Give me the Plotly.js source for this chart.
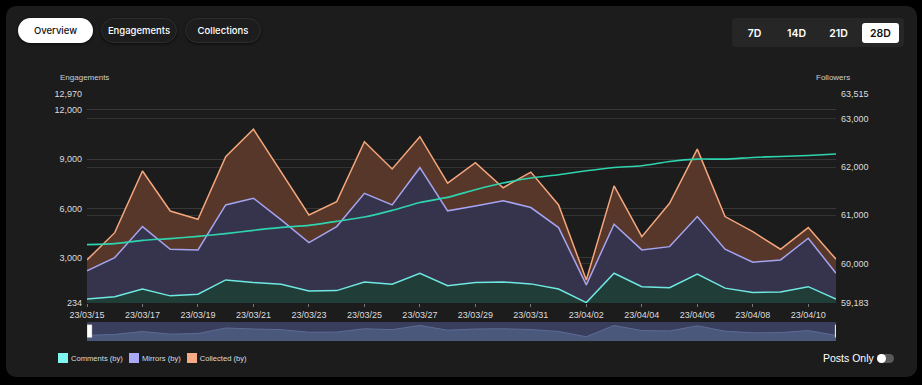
<!DOCTYPE html>
<html><head><meta charset="utf-8">
<script src="https://cdn.plot.ly/plotly-3.0.1.min.js"></script>
<style>
html,body{margin:0;padding:0;background:#000;width:922px;height:385px;overflow:hidden;font-family:"Liberation Sans",Arial,sans-serif;}
#card{position:absolute;left:6px;top:6px;width:911px;height:371px;background:#1c1c1c;border-radius:10px;}
#chart{position:absolute;left:0;top:0;width:922px;height:385px;}
.pill{position:absolute;top:18px;height:25px;border-radius:13px;font-family:Inter,"Liberation Sans",sans-serif;font-size:9.5px;font-weight:500;display:flex;align-items:center;justify-content:center;box-sizing:border-box;color:#fff;background:#1d1d1d;border:1px solid #2e2e2e;box-shadow:0 1px 3px rgba(0,0,0,0.6);}
.pill.active{background:#fff;color:#111;border:none;}
#seg{position:absolute;left:732px;top:18px;width:172px;height:29px;background:#262626;border-radius:4px;}
.seg{position:absolute;top:5px;height:20px;width:37px;border-radius:3px;font-family:Inter,"Liberation Sans",sans-serif;font-size:10.5px;font-weight:600;color:#fff;display:flex;align-items:center;justify-content:center;}
.seg.active{background:#fff;color:#111;}
#legend{position:absolute;left:58px;top:353px;display:flex;align-items:center;font-size:7.6px;color:#ddd;}
#legend .item{display:flex;align-items:center;margin-right:6px;}
#legend .sw{width:10px;height:10px;margin-right:3px;}
#posts{position:absolute;left:823px;top:352px;font-size:10.5px;color:#fff;font-family:"Liberation Sans",Arial,sans-serif;}
#toggle{position:absolute;left:877px;top:354px;width:17px;height:9px;border-radius:5px;background:#5a5a5a;}
#toggle .knob{position:absolute;left:0px;top:0px;width:9px;height:9px;border-radius:5px;background:#fff;}
</style></head>
<body>
<div id="card"></div>
<div id="chart"></div>
<div class="pill active" style="left:18px;width:75px;">Overview</div>
<div class="pill" style="left:101px;width:76px;">Engagements</div>
<div class="pill" style="left:185px;width:76px;">Collections</div>
<div id="seg">
  <div class="seg" style="left:4px;">7D</div>
  <div class="seg" style="left:46px;">14D</div>
  <div class="seg" style="left:88px;">21D</div>
  <div class="seg active" style="left:130px;">28D</div>
</div>
<div id="legend"></div>
<div id="posts">Posts Only</div>
<div id="toggle"><div class="knob"></div></div>
<script>
// ---- data ----
const dates = ["2023-03-15","2023-03-16","2023-03-17","2023-03-18","2023-03-19","2023-03-20","2023-03-21","2023-03-22","2023-03-23","2023-03-24","2023-03-25","2023-03-26","2023-03-27","2023-03-28","2023-03-29","2023-03-30","2023-03-31","2023-04-01","2023-04-02","2023-04-03","2023-04-04","2023-04-05","2023-04-06","2023-04-07","2023-04-08","2023-04-09","2023-04-10","2023-04-11"];
const comments = [480,620,1080,670,770,1640,1480,1380,970,990,1520,1380,2050,1290,1480,1520,1400,1090,260,2050,1230,1170,1990,1140,870,910,1230,470];
const mirrors = [1710,2380,3810,2840,2700,4570,5140,3920,2940,3900,5400,4830,6430,4560,4670,4950,4650,3740,1080,2990,2240,2500,3510,2370,1850,1950,2950,1580];
const collected = [670,1520,3390,2330,1870,2940,4200,2940,1690,1520,3140,2190,1890,1690,2640,790,2160,1380,300,2330,810,2640,4110,1990,1860,650,650,850];
const followers = [60393,60414,60482,60517,60565,60621,60689,60751,60792,60875,60966,61103,61268,61372,61531,61669,61773,61841,61924,61993,62028,62117,62166,62166,62200,62221,62241,62270];
const seriesNames = ["Comments (by)","Mirrors (by)","Collected (by)"];
const leftTicks = [234,3000,6000,9000,12000,12970];
const rightTicks = [59183,60000,61000,62000,63000,63515];

// ---- styles ----
const lineColors = ["#6fe8e2","#a6a4f0","#f4a67c"];
const fillColors = ["#213d37","#35344c","#56372a"];
const swatchColors = ["#7ff5f0","#a9a9fa","#f7aa85"];
const followColor = "#2fd3ae";
const miniRange = [-420, 2590];

const leg = document.getElementById('legend');
seriesNames.forEach((n,i)=>{
  const it=document.createElement('div');it.className='item';
  it.innerHTML='<div class="sw" style="background:'+swatchColors[i]+'"></div><span>'+n+'</span>';
  leg.appendChild(it);
});

const series=[comments,mirrors,collected];
const traces = series.map((s,i)=>({
  x:dates, y:s, name:seriesNames[i], type:'scatter', mode:'lines', stackgroup:'eng',
  line:{color:lineColors[i], width:1.5}, fillcolor:fillColors[i], xaxis:'x', yaxis:'y', showlegend:false
}));
traces.push({x:dates, y:followers, name:'Followers', type:'scatter', mode:'lines',
  line:{color:followColor, width:1.6, shape:'spline', smoothing:0.5}, xaxis:'x', yaxis:'y2', showlegend:false});
// mini overview (range slider look)
traces.push({x:dates, y:dates.map(()=>miniRange[0]), type:'scatter', mode:'lines', line:{width:0, color:'rgba(0,0,0,0)'}, xaxis:'x2', yaxis:'y3', showlegend:false, hoverinfo:'skip'});
traces.push({x:dates, y:comments, type:'scatter', mode:'lines', fill:'tonexty', fillcolor:'#4a587c',
  line:{color:'#5d6b95', width:1}, xaxis:'x2', yaxis:'y3', showlegend:false});

const tickFont = {family:'"Liberation Sans", Arial, sans-serif', size:9, color:'#dcdcdc'};
const layout = {
  width:922, height:385,
  margin:{l:87, r:86, t:94, b:44, pad:0},
  paper_bgcolor:'rgba(0,0,0,0)', plot_bgcolor:'rgba(0,0,0,0)',
  showlegend:false,
  xaxis:{type:'date', range:[dates[0], dates[dates.length-1]], domain:[0,1], anchor:'y',
    tick0:dates[0], dtick:2*86400000, tickformat:'%y/%m/%d', ticks:'outside', ticklen:3, tickcolor:'#777',
    tickfont:tickFont, showgrid:false, zeroline:false, showline:false, fixedrange:true},
  yaxis:{range:[leftTicks[0], leftTicks[leftTicks.length-1]], domain:[0.1538,1], anchor:'x',
    tickvals:leftTicks, ticktext:leftTicks.map(v=>v.toLocaleString('en-US')), tickfont:tickFont,
    gridcolor:'#383838', gridwidth:1, zeroline:false, showline:false, ticks:'', ticklabelstandoff:4},
  yaxis2:{range:[rightTicks[0], rightTicks[rightTicks.length-1]], overlaying:'y', side:'right', anchor:'x',
    tickvals:rightTicks, ticktext:rightTicks.map(v=>v.toLocaleString('en-US')), tickfont:tickFont,
    gridcolor:'#333333', gridwidth:1, zeroline:false, showline:false, ticks:'', ticklabelstandoff:4},
  xaxis2:{type:'date', range:[dates[0], dates[dates.length-1]], domain:[0,1], anchor:'y3', visible:false, fixedrange:true},
  yaxis3:{range:miniRange, domain:[0,0.0769], anchor:'x2', visible:false, fixedrange:true},
  shapes:[
    {type:'rect', xref:'x2 domain', yref:'y3 domain', x0:0, x1:1, y0:0, y1:1, fillcolor:'#383e5c', line:{width:0}, layer:'below'},
    {type:'rect', xref:'x2', yref:'y3 domain', xsizemode:'pixel', xanchor:dates[0], x0:0, x1:5, y0:0.18, y1:0.86, fillcolor:'#ffffff', line:{width:0.5, color:'#999'}},
    {type:'rect', xref:'x2', yref:'y3 domain', xsizemode:'pixel', xanchor:dates[dates.length-1], x0:-1, x1:3, y0:0.18, y1:0.86, fillcolor:'#ffffff', line:{width:0.5, color:'#999'}}
  ],
  annotations:[
    {text:'Engagements', xref:'paper', yref:'paper', x:-0.0387, y:1.065, xanchor:'left', yanchor:'middle', showarrow:false, font:{family:'"Liberation Sans", Arial, sans-serif', size:8, color:'#cfcfcf'}},
    {text:'Followers', xref:'paper', yref:'paper', x:1.0214, y:1.065, xanchor:'right', yanchor:'middle', showarrow:false, font:{family:'"Liberation Sans", Arial, sans-serif', size:8, color:'#cfcfcf'}}
  ]
};
Plotly.newPlot('chart', traces, layout, {staticPlot:true, displayModeBar:false});
</script>
</body></html>
